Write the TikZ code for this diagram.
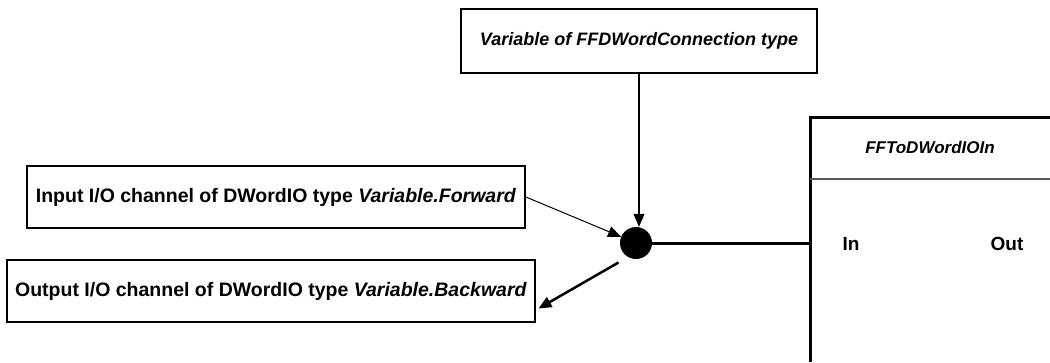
\documentclass[tikz,border=0pt]{standalone}
\usepackage{fontspec}
\setmainfont{Liberation Sans}
\usetikzlibrary{arrows.meta,calc}

\tikzset{
  infobox/.style={rectangle,draw,line width=1.8pt,inner sep=0pt,
    font=\fontsize{19.5}{22}\selectfont\bfseries},
  pinlabel/.style={font=\fontsize{19}{22}\selectfont\bfseries},
  tip/.style={-{Triangle[length=13pt,width=11pt]}},
}

\begin{document}
\begin{tikzpicture}[x=1pt,y=-1pt]
\useasboundingbox (0,0) rectangle (1050,362);
\node [infobox,minimum width=356pt,minimum height=64pt,
  font=\fontsize{18}{20}\selectfont\bfseries\itshape] (var) at (639,41)
  {Variable of FFDWordConnection type};
\node [infobox,minimum width=498pt,minimum height=62pt] (fwd) at (276,197)
  {Input I/O channel of DWordIO type \textit{Variable.Forward}};
\node [infobox,minimum width=528pt,minimum height=62pt] (bwd) at (271,291)
  {Output I/O channel of DWordIO type \textit{Variable.Backward}};
\node [circle,fill,minimum size=32pt,inner sep=0pt] (dot) at (636,243) {};

% function block
\draw [line width=3pt] (810,362) -- (810,117) -- (1050,117);
\draw [line width=1.5pt,black!65] (810,179) -- (1050,179);
\node [font=\fontsize{17}{20}\selectfont\bfseries\itshape] (fbname) at (930,147) {FFToDWordIOIn};
\node [pinlabel] (fbin) at (851,244) {In};
\node [pinlabel] (fbout) at (1007,244) {Out};
\coordinate (fbport) at (810,243);

% connectors
\draw [tip,line width=1.2pt] (var.south) -- (var.south |- dot.north);
\draw [tip,line width=1pt] (fwd.east) -- (dot);
\coordinate (bwdtip) at ([yshift=-19pt]bwd.east);
\draw [tip,line width=2.5pt,shorten >=3pt] ($(dot.225)+(-6,8)$) -- (bwdtip);
\draw [line width=3pt] (dot) -- (fbport);
\end{tikzpicture}
\end{document}
